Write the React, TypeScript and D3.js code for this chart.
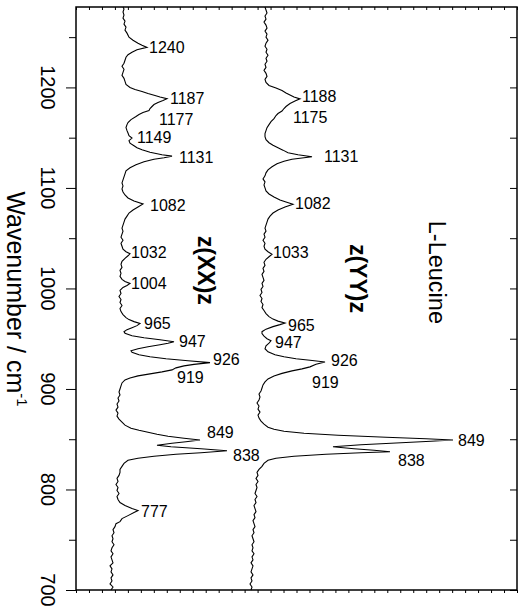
import { useEffect, useRef } from 'react';
import * as d3 from 'd3';

// Raman spectra of L-Leucine, plotted with wavenumber running up the page
const WIDTH = 519;
const HEIGHT = 609;
const margin = { top: 7, right: 2, bottom: 19, left: 76 };

const wavenumberDomain: [number, number] = [700, 1280];
const intensityDomain: [number, number] = [0, 441];
const majorTicks = [700, 800, 900, 1000, 1100, 1200];
const minorTicks = [750, 850, 950, 1050, 1150, 1250];
const sideTicks = [700, 750, 800, 850, 900, 950, 1000, 1050, 1100, 1150, 1200, 1250];
const intensityTickCount = 34;

// [wavenumber (cm-1), intensity (arb. units)]
const specXX: [number, number][] = [
  [700, 35], [703, 37], [706, 34], [709, 36], [712, 35], [715, 37], [718, 35], [721, 36],
  [724, 34], [727, 37], [730, 36], [733, 35], [736, 37], [739, 35], [742, 36], [745, 38],
  [748, 36], [751, 37], [754, 36], [757, 38], [760, 37], [763, 39], [766, 40], [768, 44],
  [771, 46], [774, 52], [777, 58], [779, 62], [781, 56], [784, 49], [787, 44], [790, 42],
  [793, 41], [796, 43], [799, 41], [802, 42], [805, 40], [808, 42], [811, 41], [814, 43],
  [817, 44], [820, 44], [823, 46], [826, 48], [829, 52], [831, 62], [833, 78], [835, 100],
  [836.5, 125], [838.5, 151], [840.5, 125], [842.5, 95], [844, 81], [846, 96], [847.5, 110],
  [849.3, 124], [851, 108], [853, 92], [855, 81], [857, 72], [859, 63], [861, 55], [864, 49],
  [867, 46], [870, 43], [873, 41], [876, 42], [879, 40], [882, 42], [885, 41], [888, 43],
  [891, 42], [894, 44], [897, 43], [900, 44], [903, 45], [906, 46], [909, 49], [911, 54],
  [913, 62], [915, 74], [917, 86], [919, 96], [921, 100], [923, 108], [924.5, 118],
  [926.2, 134], [928, 112], [930, 90], [932, 74], [934, 63], [936.5, 56], [938, 55],
  [940, 62], [942, 72], [944, 84], [945.5, 92], [947, 98], [949, 84], [951, 68], [953, 56],
  [955.5, 49], [957, 48], [959, 51], [961, 56], [963, 61], [965.2, 64], [967, 58], [969, 53],
  [971, 50], [974, 47], [977, 45], [980, 44], [983, 46], [986, 44], [989, 45], [992, 43],
  [995, 45], [998, 44], [1001, 47], [1003, 51], [1005, 54], [1007, 49], [1009, 46],
  [1012, 44], [1015, 45], [1018, 44], [1021, 46], [1024, 45], [1027, 46], [1030, 49],
  [1032.5, 52], [1034.5, 54], [1036.5, 50], [1039, 47], [1042, 46], [1045, 45], [1048, 47],
  [1051, 45], [1054, 46], [1057, 47], [1060, 46], [1063, 47], [1066, 48], [1069, 49],
  [1072, 51], [1075, 53], [1078, 57], [1081, 62], [1084, 67], [1087, 58], [1090, 52],
  [1093, 49], [1096, 47], [1099, 46], [1102, 47], [1105, 46], [1108, 47], [1111, 48],
  [1114, 49], [1117, 50], [1120, 54], [1123, 60], [1126, 68], [1128.5, 78], [1130, 88],
  [1131.6, 96], [1133, 86], [1135.5, 74], [1138, 66], [1140, 61], [1142, 58], [1144.5, 54],
  [1147, 53], [1149.6, 56], [1152, 53], [1154.6, 52], [1157, 51], [1160, 50], [1163, 51],
  [1165, 52], [1168, 55], [1171, 60], [1173, 63], [1175, 67], [1177, 73], [1179, 74],
  [1181, 76], [1183, 78], [1185, 82], [1187, 87], [1188.8, 91], [1190.5, 84], [1192, 79],
  [1194, 72], [1196, 66], [1198, 59], [1200, 54], [1203, 50], [1206, 49], [1209, 48],
  [1212, 46], [1215, 47], [1218, 48], [1221, 46], [1224, 48], [1227, 49], [1230, 50],
  [1232.5, 52], [1235, 56], [1237.5, 61], [1239.8, 71], [1242, 66], [1244, 62], [1247, 57],
  [1250, 53], [1254, 51], [1257, 49], [1260, 50], [1263, 48], [1266, 49], [1269, 47],
  [1272, 48], [1275, 47], [1278, 48], [1280, 47],
];

const specYY: [number, number][] = [
  [700, 175], [703, 176], [706, 174], [709, 176], [712, 175], [715, 177], [718, 175],
  [721, 176], [724, 177], [727, 175], [730, 177], [733, 176], [736, 178], [739, 176],
  [742, 177], [745, 176], [748, 178], [751, 177], [754, 176], [757, 178], [760, 177],
  [763, 179], [766, 178], [769, 177], [772, 179], [775, 178], [778, 180], [781, 179],
  [784, 178], [787, 180], [790, 179], [793, 181], [796, 179], [799, 180], [802, 181],
  [805, 180], [808, 182], [811, 180], [814, 182], [817, 181], [820, 183], [823, 186],
  [826, 188], [829, 192], [831, 200], [833, 218], [835, 250], [836.5, 285], [837.6, 314],
  [839, 298], [840.5, 278], [842.5, 257], [844.5, 285], [846.5, 325], [848, 355],
  [849.3, 377], [850.5, 350], [852, 310], [854, 262], [856, 228], [858, 208], [860, 198],
  [862, 192], [865, 188], [868, 185], [871, 183], [874, 182], [877, 184], [880, 182],
  [883, 183], [886, 181], [889, 183], [892, 184], [895, 183], [898, 185], [901, 186],
  [904, 187], [907, 189], [910, 192], [913, 198], [915.5, 206], [918, 216], [920, 226],
  [922, 234], [924.5, 240], [926.8, 249], [928.5, 234], [930, 220], [932, 208], [934, 199],
  [937, 192], [940, 189], [943, 190], [945.5, 193], [948, 195], [950, 191], [952.5, 188],
  [955, 186], [957, 186], [959.5, 190], [962, 197], [964, 204], [965.6, 209], [967.5, 202],
  [969.5, 197], [972, 193], [975, 190], [978, 188], [981, 186], [984, 187], [987, 185],
  [990, 186], [993, 184], [996, 186], [999, 185], [1002, 187], [1005, 186], [1008, 188],
  [1011, 187], [1014, 186], [1017, 188], [1020, 187], [1023, 189], [1026, 188], [1029, 190],
  [1031.5, 193], [1034, 196], [1036.5, 192], [1039, 189], [1042, 188], [1045, 189],
  [1048, 187], [1051, 189], [1054, 188], [1057, 190], [1060, 189], [1063, 190], [1066, 191],
  [1069, 192], [1072, 194], [1075, 197], [1078, 202], [1081, 209], [1083.8, 217],
  [1086, 210], [1088, 204], [1091, 198], [1094, 193], [1097, 190], [1100, 189], [1103, 188],
  [1106, 189], [1109, 187], [1112, 189], [1115, 190], [1118, 192], [1121, 196], [1124, 201],
  [1126.5, 208], [1128.5, 216], [1131, 236], [1133, 222], [1135, 212], [1137.6, 207],
  [1140, 202], [1142.5, 197], [1145, 193], [1148, 190], [1151, 189], [1154, 189], [1157, 190],
  [1160, 191], [1163, 193], [1166, 195], [1169, 198], [1172, 200], [1174, 202], [1176.5, 206],
  [1179, 208], [1181, 210], [1184, 214], [1186.5, 219], [1188.6, 224], [1190.5, 218],
  [1192, 215], [1194.5, 210], [1197, 206], [1199.5, 200], [1202, 193], [1205, 190],
  [1208, 189], [1211, 191], [1214, 190], [1217, 188], [1220, 190], [1223, 189], [1226, 191],
  [1229, 190], [1232, 192], [1235, 190], [1238, 191], [1241, 189], [1244, 190], [1247, 192],
  [1250, 190], [1253, 191], [1256, 189], [1259, 191], [1262, 190], [1265, 188], [1268, 190],
  [1271, 189], [1274, 191], [1277, 190], [1280, 189],
];

// peak labels: [text, intensity, wavenumber] of the label's left baseline point
const labelsXX: [string, number, number][] = [
  ['1240', 73, 1234.4], ['1187', 94, 1183.3], ['1177', 83, 1162.8], ['1149', 61, 1144.3],
  ['1131', 103, 1124.4], ['1082', 74, 1077.2], ['1032', 55, 1029.9], ['1004', 55, 999.1],
  ['965', 68, 959.3], ['947', 103, 942], ['926', 137, 923.8], ['919', 101, 905.6],
  ['849', 131, 850.9], ['838', 157, 828.6], ['777', 65, 772.9],
];

const labelsYY: [string, number, number][] = [
  ['1188', 226, 1185.6], ['1175', 217, 1164.7], ['1131', 248, 1126], ['1082', 219, 1078.6],
  ['1033', 197, 1029.9], ['965', 212, 957.9], ['947', 199, 940.7], ['926', 255, 922.8],
  ['919', 236, 900.9], ['849', 382, 843.5], ['838', 322, 823.6],
];

// rotated captions: [text, intensity, wavenumber at centre, bold]
const captions: [string, number, number, boolean][] = [
  ['z(XX)z', 122, 1018, true],
  ['z(YY)z', 274, 1010, true],
  ['L-Leucine', 353, 1016, false],
];

const FONT = 'Arial, "Liberation Sans", Helvetica, sans-serif';

export default function App() {
  const svgRef = useRef<SVGSVGElement>(null);

  useEffect(() => {
    if (!svgRef.current) return;
    const svg = d3.select(svgRef.current);
    svg.selectAll('*').remove();

    const width = WIDTH - margin.left - margin.right;
    const height = HEIGHT - margin.top - margin.bottom;

    const x = d3.scaleLinear().domain(intensityDomain).range([0, width]);
    const y = d3.scaleLinear().domain(wavenumberDomain).range([height, 0]);

    const g = svg.append('g').attr('transform', `translate(${margin.left},${margin.top})`);

    const line = d3
      .line<[number, number]>()
      .x((d) => x(d[1]))
      .y((d) => y(d[0]));

    [specXX, specYY].forEach((s) => {
      g.append('path')
        .datum(s)
        .attr('fill', 'none')
        .attr('stroke', '#000')
        .attr('stroke-width', 1.1)
        .attr('stroke-linejoin', 'miter')
        .attr('d', line);
    });

    const xTicks = d3.range(0, intensityTickCount + 1).map((i) => (i * intensityDomain[1]) / intensityTickCount);

    // bottom ticks (outward)
    g.append('g')
      .attr('transform', `translate(0,${height})`)
      .call(d3.axisBottom(x).tickValues(xTicks).tickSize(3).tickFormat(() => ''));
    // top ticks (inward)
    g.append('g').call(d3.axisTop(x).tickValues(xTicks).tickSize(-3).tickFormat(() => ''));
    // left ticks (outward)
    g.append('g').call(d3.axisLeft(y).tickValues(majorTicks).tickSize(10).tickFormat(() => ''));
    g.append('g').call(d3.axisLeft(y).tickValues(minorTicks).tickSize(7).tickFormat(() => ''));
    // right ticks (inward)
    g.append('g')
      .attr('transform', `translate(${width},0)`)
      .call(d3.axisRight(y).tickValues(sideTicks).tickSize(-7).tickFormat(() => ''));

    g.selectAll('.domain').remove();
    g.selectAll('.tick line').attr('stroke', '#000').attr('stroke-width', 1);

    g.append('rect')
      .attr('width', width)
      .attr('height', height)
      .attr('fill', 'none')
      .attr('stroke', '#000')
      .attr('stroke-width', 1.5);

    // wavenumber tick labels, rotated
    g.selectAll('.wn-label')
      .data(majorTicks)
      .join('text')
      .attr('class', 'wn-label')
      .attr('transform', (d) => `translate(-35.5,${y(d)}) rotate(90)`)
      .attr('text-anchor', 'middle')
      .attr('font-family', FONT)
      .attr('font-size', 20)
      .text((d) => d);

    // axis title
    const title = svg
      .append('text')
      .attr('transform', `translate(7,299) rotate(90)`)
      .attr('text-anchor', 'middle')
      .attr('font-family', FONT)
      .attr('font-size', 25);
    title.append('tspan').text('Wavenumber / cm');
    title.append('tspan').attr('font-size', 15).attr('dy', -10).text('-1');

    // peak labels
    [labelsXX, labelsYY].forEach((labels) => {
      g.append('g')
        .selectAll('text')
        .data(labels)
        .join('text')
        .attr('x', (d) => x(d[1]))
        .attr('y', (d) => y(d[2]))
        .attr('font-family', FONT)
        .attr('font-size', 16)
        .text((d) => d[0]);
    });

    // captions
    g.append('g')
      .selectAll('text')
      .data(captions)
      .join('text')
      .attr('transform', (d) => `translate(${x(d[1])},${y(d[2])}) rotate(90)`)
      .attr('text-anchor', 'middle')
      .attr('font-family', FONT)
      .attr('font-size', (d) => (d[3] ? 23 : 23.5))
      .attr('font-weight', (d) => (d[3] ? 'bold' : 'normal'))
      .text((d) => d[0]);
  }, []);

  return (
    <div style={{ position: 'absolute', left: 0, top: 0, background: '#fff' }}>
      <svg ref={svgRef} width={WIDTH} height={HEIGHT} style={{ display: 'block' }} />
    </div>
  );
}
